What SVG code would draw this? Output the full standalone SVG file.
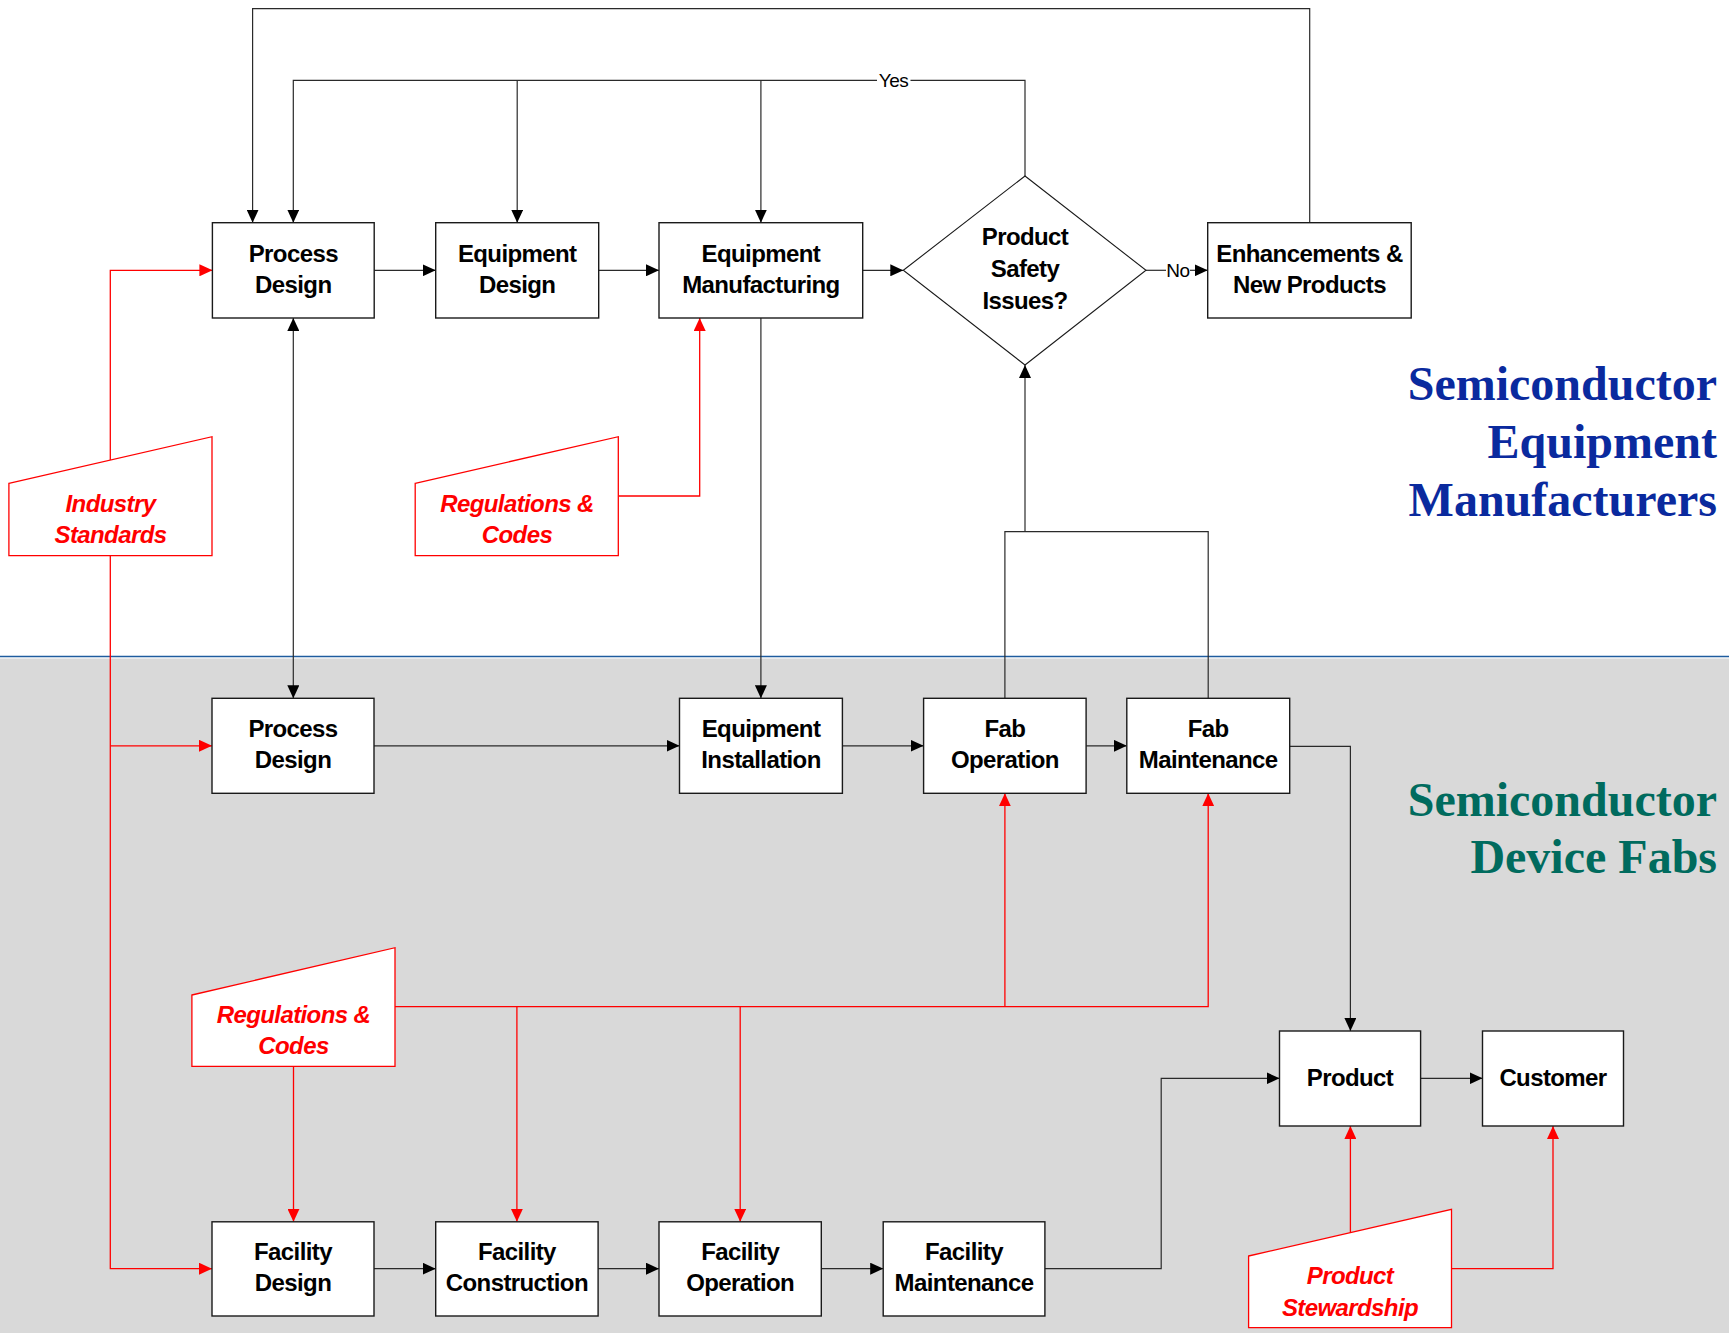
<svg xmlns="http://www.w3.org/2000/svg" width="1729" height="1333" viewBox="0 0 1729 1333">
  <style>
    .box { fill: #fff; stroke: #1a1a1a; stroke-width: 1.4; }
    .src { fill: #fff; stroke: #ff0000; stroke-width: 1.3; }
    .dia { fill: #fff; stroke: #1a1a1a; stroke-width: 1.1; }
    .lbl { font-family: "Liberation Sans", Arial, sans-serif; font-weight: bold; font-size: 24px; letter-spacing: -0.6px; fill: #000; text-anchor: middle; }
    .rlbl { font-family: "Liberation Sans", Arial, sans-serif; font-weight: bold; font-style: italic; font-size: 24px; letter-spacing: -0.6px; fill: #ff0000; text-anchor: middle; }
    .small { font-family: "Liberation Sans", Arial, sans-serif; font-size: 19px; letter-spacing: -0.5px; fill: #000; text-anchor: middle; }
    .head { font-family: "Liberation Serif", "Times New Roman", serif; font-weight: bold; font-size: 48px; text-anchor: end; }
    .k { fill: none; stroke: #2a2a2a; stroke-width: 1.2; }
    .r { fill: none; stroke: #ff0000; stroke-width: 1.3; }
  </style>
  <defs>
    <marker id="ak" viewBox="0 0 13 12" refX="13" refY="6" markerWidth="13" markerHeight="12" markerUnits="userSpaceOnUse" orient="auto-start-reverse">
      <path d="M0,0 L13,6 L0,12 z" fill="#000"/>
    </marker>
    <marker id="ar" viewBox="0 0 13 12" refX="13" refY="6" markerWidth="13" markerHeight="12" markerUnits="userSpaceOnUse" orient="auto">
      <path d="M0,0 L13,6 L0,12 z" fill="#ff0000"/>
    </marker>
  </defs>

  <!-- backgrounds: equipment makers above, device fabs below -->
  <rect x="0" y="0" width="1729" height="1333" fill="#ffffff"/>
  <rect x="0" y="658.5" width="1729" height="674.5" fill="#d9d9d9"/>
  <line x1="0" y1="656.5" x2="1729" y2="656.5" stroke="#1f5c9e" stroke-width="1.3"/>

  <!-- section headings -->
  <g id="heading-equipment" fill="#0a2a9e">
    <text class="head" x="1717" y="400" fill="#0a2a9e">Semiconductor</text>
    <text class="head" x="1717" y="458" fill="#0a2a9e">Equipment</text>
    <text class="head" x="1717" y="516" fill="#0a2a9e">Manufacturers</text>
  </g>
  <g id="heading-fabs">
    <text class="head" x="1717" y="816" fill="#006b5e">Semiconductor</text>
    <text class="head" x="1717" y="873" fill="#006b5e">Device Fabs</text>
  </g>

  <!-- connectors -->
  <g id="connectors">
    <!-- black flow -->
    <path class="k" d="M1309.7,222.7 V8.7 H252.6 V222.7" marker-end="url(#ak)"/>
    <path class="k" d="M1025,176 V80.3 H910.5"/>
    <path class="k" d="M877,80.3 H293.3 V222.7" marker-end="url(#ak)"/>
    <path class="k" d="M517.2,80.3 V222.7" marker-end="url(#ak)"/>
    <path class="k" d="M760.9,80.3 V222.7" marker-end="url(#ak)"/>
    <path class="k" d="M374.2,270.3 H435.7" marker-end="url(#ak)"/>
    <path class="k" d="M598.7,270.3 H659" marker-end="url(#ak)"/>
    <path class="k" d="M862.7,270.3 H903.3" marker-end="url(#ak)"/>
    <path class="k" d="M1146,270.3 H1166"/>
    <path class="k" d="M1190,270.3 H1207.7" marker-end="url(#ak)"/>
    <path class="k" d="M293.3,318 V698.3" marker-start="url(#ak)" marker-end="url(#ak)"/>
    <path class="k" d="M760.9,318 V698.3" marker-end="url(#ak)"/>
    <path class="k" d="M374,745.8 H679.5" marker-end="url(#ak)"/>
    <path class="k" d="M842.4,745.8 H923.6" marker-end="url(#ak)"/>
    <path class="k" d="M1086.1,745.8 H1126.8" marker-end="url(#ak)"/>
    <path class="k" d="M1004.9,698.3 V531.7 H1208.2 V698.3"/>
    <path class="k" d="M1025,531.7 V365" marker-end="url(#ak)"/>
    <path class="k" d="M1289.7,746.4 H1350.4 V1031" marker-end="url(#ak)"/>
    <path class="k" d="M374,1268.7 H435.7" marker-end="url(#ak)"/>
    <path class="k" d="M598.1,1268.7 H659" marker-end="url(#ak)"/>
    <path class="k" d="M821.3,1268.7 H883.2" marker-end="url(#ak)"/>
    <path class="k" d="M1044.9,1268.7 H1161.2 V1078.3 H1279.5" marker-end="url(#ak)"/>
    <path class="k" d="M1420.6,1078.3 H1482.5" marker-end="url(#ak)"/>
    <text class="small" x="893.5" y="87">Yes</text>
    <text class="small" x="1178" y="277">No</text>

    <!-- red influences -->
    <path class="r" d="M110.3,460 V270.3 H212.4" marker-end="url(#ar)"/>
    <path class="r" d="M110.3,555.7 V1268.7 H212" marker-end="url(#ar)"/>
    <path class="r" d="M110.3,745.8 H212" marker-end="url(#ar)"/>
    <path class="r" d="M618.3,496 H699.7 V318" marker-end="url(#ar)"/>
    <path class="r" d="M395,1006.7 H1208.2 V793.3" marker-end="url(#ar)"/>
    <path class="r" d="M1004.9,1006.7 V793.3" marker-end="url(#ar)"/>
    <path class="r" d="M516.9,1006.7 V1221.8" marker-end="url(#ar)"/>
    <path class="r" d="M740.2,1006.7 V1221.8" marker-end="url(#ar)"/>
    <path class="r" d="M293.5,1066.3 V1221.8" marker-end="url(#ar)"/>
    <path class="r" d="M1350.4,1232.6 V1126" marker-end="url(#ar)"/>
    <path class="r" d="M1451.5,1268.7 H1553 V1126" marker-end="url(#ar)"/>
  </g>

  <!-- equipment manufacturer nodes -->
  <g id="process-design-eq">
    <rect class="box" x="212.4" y="222.7" width="161.8" height="95.3"/>
    <text class="lbl" x="293.3" y="261.8">Process</text>
    <text class="lbl" x="293.3" y="292.8">Design</text>
  </g>
  <g id="equipment-design">
    <rect class="box" x="435.7" y="222.7" width="163" height="95.3"/>
    <text class="lbl" x="517.2" y="261.8">Equipment</text>
    <text class="lbl" x="517.2" y="292.8">Design</text>
  </g>
  <g id="equipment-manufacturing">
    <rect class="box" x="659" y="222.7" width="203.7" height="95.3"/>
    <text class="lbl" x="760.9" y="261.8">Equipment</text>
    <text class="lbl" x="760.9" y="292.8">Manufacturing</text>
  </g>
  <g id="safety-decision">
    <polygon class="dia" points="1025,176 1146,270.3 1025,365 903.3,270.3"/>
    <text class="lbl" x="1025" y="245">Product</text>
    <text class="lbl" x="1025" y="277">Safety</text>
    <text class="lbl" x="1025" y="309">Issues?</text>
  </g>
  <g id="enhancements">
    <rect class="box" x="1207.7" y="222.7" width="203.5" height="95.3"/>
    <text class="lbl" x="1309.5" y="261.8">Enhancements &amp;</text>
    <text class="lbl" x="1309.5" y="292.8">New Products</text>
  </g>
  <g id="industry-standards">
    <polygon class="src" points="8.9,483.3 212,436.7 212,555.7 8.9,555.7"/>
    <text class="rlbl" x="110.5" y="511.5">Industry</text>
    <text class="rlbl" x="110.5" y="543">Standards</text>
  </g>
  <g id="regulations-eq">
    <polygon class="src" points="415.2,483.3 618.3,436.7 618.3,555.7 415.2,555.7"/>
    <text class="rlbl" x="517" y="511.5">Regulations &amp;</text>
    <text class="rlbl" x="517" y="543">Codes</text>
  </g>

  <!-- device fab nodes -->
  <g id="process-design-fab">
    <rect class="box" x="212" y="698.3" width="162" height="95"/>
    <text class="lbl" x="293" y="737.3">Process</text>
    <text class="lbl" x="293" y="768.3">Design</text>
  </g>
  <g id="equipment-installation">
    <rect class="box" x="679.5" y="698.3" width="162.9" height="95"/>
    <text class="lbl" x="761" y="737.3">Equipment</text>
    <text class="lbl" x="761" y="768.3">Installation</text>
  </g>
  <g id="fab-operation">
    <rect class="box" x="923.6" y="698.3" width="162.5" height="95"/>
    <text class="lbl" x="1004.9" y="737.3">Fab</text>
    <text class="lbl" x="1004.9" y="768.3">Operation</text>
  </g>
  <g id="fab-maintenance">
    <rect class="box" x="1126.8" y="698.3" width="162.9" height="95"/>
    <text class="lbl" x="1208.2" y="737.3">Fab</text>
    <text class="lbl" x="1208.2" y="768.3">Maintenance</text>
  </g>
  <g id="regulations-fab">
    <polygon class="src" points="191.9,995 395,947.7 395,1066.3 191.9,1066.3"/>
    <text class="rlbl" x="293.5" y="1022.7">Regulations &amp;</text>
    <text class="rlbl" x="293.5" y="1054">Codes</text>
  </g>
  <g id="facility-design">
    <rect class="box" x="212" y="1221.8" width="162" height="94.2"/>
    <text class="lbl" x="293" y="1260.2">Facility</text>
    <text class="lbl" x="293" y="1291.2">Design</text>
  </g>
  <g id="facility-construction">
    <rect class="box" x="435.7" y="1221.8" width="162.4" height="94.2"/>
    <text class="lbl" x="516.9" y="1260.2">Facility</text>
    <text class="lbl" x="516.9" y="1291.2">Construction</text>
  </g>
  <g id="facility-operation">
    <rect class="box" x="659" y="1221.8" width="162.3" height="94.2"/>
    <text class="lbl" x="740.2" y="1260.2">Facility</text>
    <text class="lbl" x="740.2" y="1291.2">Operation</text>
  </g>
  <g id="facility-maintenance">
    <rect class="box" x="883.2" y="1221.8" width="161.7" height="94.2"/>
    <text class="lbl" x="964" y="1260.2">Facility</text>
    <text class="lbl" x="964" y="1291.2">Maintenance</text>
  </g>
  <g id="product">
    <rect class="box" x="1279.5" y="1031" width="141.1" height="95"/>
    <text class="lbl" x="1350" y="1086">Product</text>
  </g>
  <g id="customer">
    <rect class="box" x="1482.5" y="1031" width="141" height="95"/>
    <text class="lbl" x="1553" y="1086">Customer</text>
  </g>
  <g id="product-stewardship">
    <polygon class="src" points="1248.6,1256 1451.5,1209.3 1451.5,1327.7 1248.6,1327.7"/>
    <text class="rlbl" x="1350" y="1284.3">Product</text>
    <text class="rlbl" x="1350" y="1316">Stewardship</text>
  </g>
</svg>
